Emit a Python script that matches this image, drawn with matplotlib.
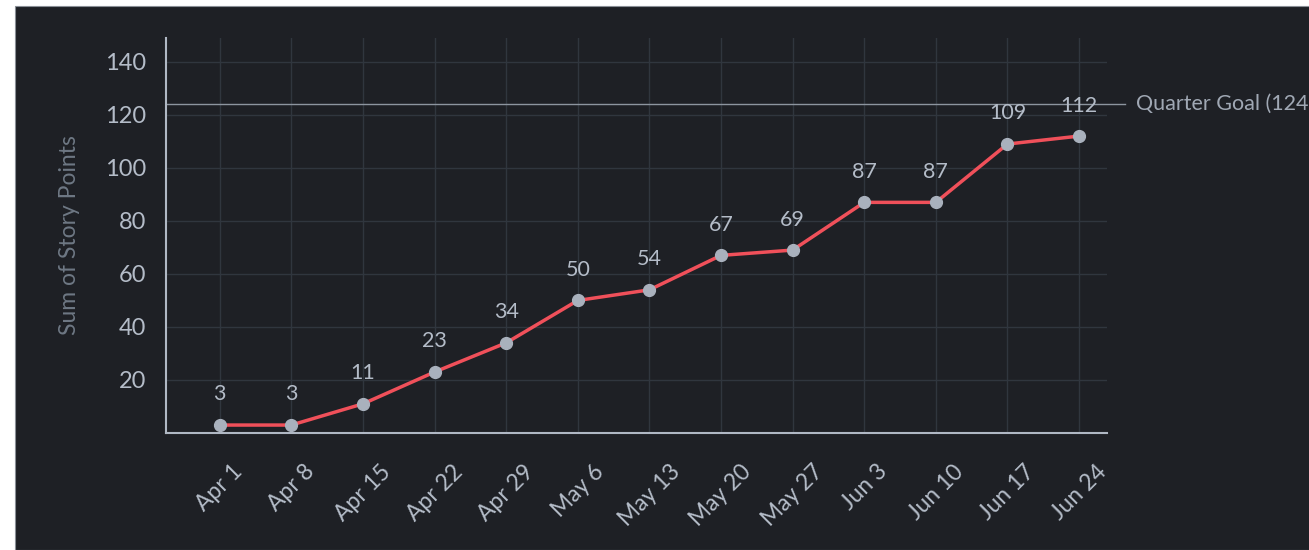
import matplotlib

matplotlib.use('Agg')
import matplotlib.pyplot as plt
from matplotlib.patches import Rectangle

# Данные
weeks = ['Apr 1', 'Apr 8', 'Apr 15', 'Apr 22', 'Apr 29', 'May 6', 'May 13',
         'May 20', 'May 27', 'Jun 3', 'Jun 10', 'Jun 17', 'Jun 24']
points = [3, 3, 11, 23, 34, 50, 54, 67, 69, 87, 87, 109, 112]
goal = 124
y_ticks = [20, 40, 60, 80, 100, 120, 140]

bg = '#1e2025'
text_col = '#b4bcc8'
grid_col = '#30363e'

plt.rcParams['font.family'] = ['Lato', 'DejaVu Sans']

fig = plt.figure(figsize=(13.09, 5.5), dpi=100, facecolor='white')
# тёмная подложка с белым полем слева и сверху
fig.patches.append(Rectangle((15 / 1309, 0), 1, 1 - 6 / 550, transform=fig.transFigure,
                             facecolor=bg, edgecolor='#8a8f96', linewidth=0.8, zorder=-10))

ax = fig.add_axes([166 / 1309, 1 - 433 / 550, (1107 - 166) / 1309, (433 - 38) / 550])
ax.set_facecolor(bg)

x = list(range(len(weeks)))
ax.plot(x, points, color='#f0505a', linewidth=2.5, zorder=3)
ax.plot(x, points, 'o', color='#a9b1bd', markersize=8.5, zorder=4)

for xi, v in zip(x, points):
    ax.annotate(str(v), (xi, v), xytext=(0, 22), textcoords='offset points',
                ha='center', va='center', color=text_col, fontsize=15.5)

# Линия цели
ax.axhline(goal, xmin=0, xmax=1.019, color='#8d959f', linewidth=1, clip_on=False, zorder=2)
ax.text(1.031, goal, f'Quarter Goal ({goal})', transform=ax.get_yaxis_transform(),
        ha='left', va='center', color='#a0a8b4', fontsize=15.5)

ax.set_xlim(-0.75, 12.39)
ax.set_ylim(0, 149)
ax.set_xticks(x)
ax.set_xticklabels(weeks, rotation=45, ha='center', va='top')
ax.set_yticks(y_ticks)

ax.grid(True, color=grid_col, linewidth=1)
ax.set_axisbelow(True)
ax.tick_params(axis='x', length=0, pad=20, labelsize=16.5, colors=text_col)
ax.tick_params(axis='y', length=0, pad=14, labelsize=17, colors=text_col)

for s in ['top', 'right']:
    ax.spines[s].set_visible(False)
for s in ['left', 'bottom']:
    ax.spines[s].set_color('#b0b8c4')
    ax.spines[s].set_linewidth(1.5)

ax.set_ylabel('Sum of Story Points', color='#6e7884', fontsize=16.5, labelpad=18)

plt.savefig('out.png', dpi=100, facecolor=fig.get_facecolor())
plt.close()
